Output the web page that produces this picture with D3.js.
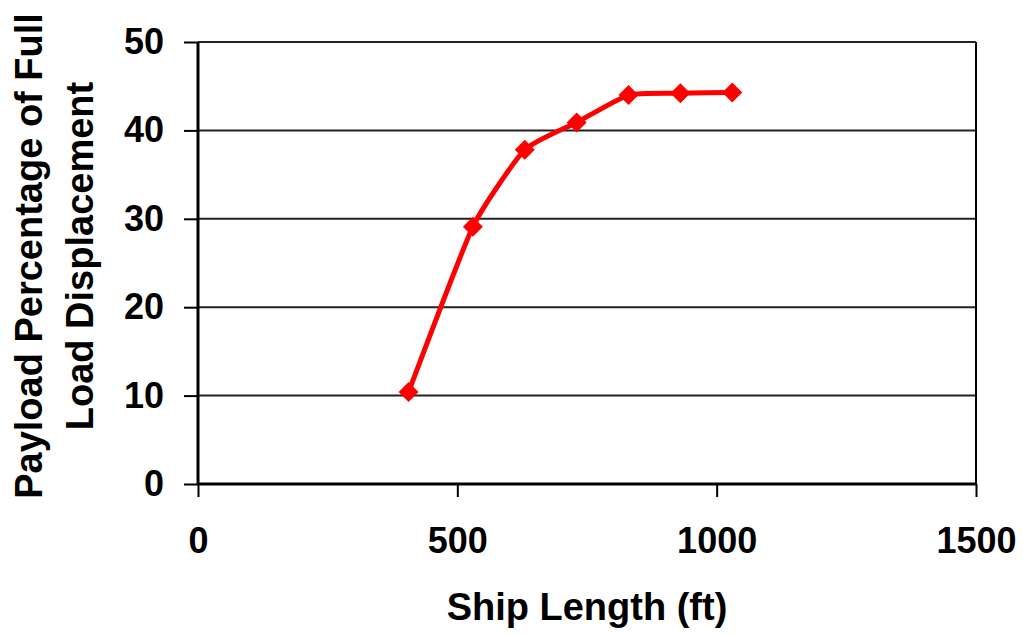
<!DOCTYPE html>
<html>
<head>
<meta charset="utf-8">
<script src="https://cdn.jsdelivr.net/npm/d3@7"></script>
<style>
  html, body { margin: 0; padding: 0; background: #fff; }
  text { font-family: Arial, "Liberation Sans", sans-serif; font-weight: bold; fill: #000; }
</style>
</head>
<body>
<svg id="chart" width="1023" height="635"></svg>
<script>
// ship length (ft) vs payload % of full load displacement
const shipLength = [406, 530, 630, 730, 830, 930, 1030];
const payloadPct = [10.4, 29.1, 37.8, 40.9, 44.0, 44.2, 44.3];
const xTicks = [0, 500, 1000, 1500];
const yTicks = [0, 10, 20, 30, 40, 50];

const margin = {top: 42, right: 47, bottom: 151, left: 198};
const width = 1023 - margin.left - margin.right;
const height = 635 - margin.top - margin.bottom;

const svgEl = d3.select("#chart");
const svg = svgEl.append("g")
    .attr("transform", `translate(${margin.left},${margin.top})`);

const xScale = d3.scaleLinear().domain([0, 1500]).range([0, width]);
const yScale = d3.scaleLinear().domain([0, 50]).range([height, 0]);

// horizontal grid lines
svg.append("g")
    .selectAll("line")
    .data(yTicks.filter(d => d > 0))
    .enter()
    .append("line")
    .attr("x1", 0)
    .attr("x2", width)
    .attr("y1", d => yScale(d))
    .attr("y2", d => yScale(d))
    .attr("stroke", "#222")
    .attr("stroke-width", 2);

// right border of plot area
svg.append("line")
    .attr("x1", width).attr("x2", width)
    .attr("y1", 0).attr("y2", height)
    .attr("stroke", "#000")
    .attr("stroke-width", 2);

const xAxis = d3.axisBottom(xScale)
    .tickValues(xTicks)
    .tickSize(13)
    .tickPadding(30)
    .tickFormat(d => d);

const xAxisGroup = svg.append("g")
    .attr("transform", `translate(0,${height})`)
    .call(xAxis);
xAxisGroup.select(".domain").attr("stroke-width", 3).attr("d", `M0,0H${width}`);
xAxisGroup.selectAll("line").attr("stroke-width", 2);
xAxisGroup.selectAll("text")
    .attr("font-size", "36px")
    .attr("font-family", "Arial, 'Liberation Sans', sans-serif")
    .attr("font-weight", "bold");

const yAxis = d3.axisLeft(yScale)
    .tickValues(yTicks)
    .tickSize(14)
    .tickPadding(20)
    .tickFormat(d => d);

const yAxisGroup = svg.append("g").call(yAxis);
yAxisGroup.select(".domain").attr("stroke-width", 3).attr("d", `M0,0V${height}`);
yAxisGroup.selectAll("line").attr("stroke-width", 2);
yAxisGroup.selectAll("text")
    .attr("font-size", "36px")
    .attr("font-family", "Arial, 'Liberation Sans', sans-serif")
    .attr("font-weight", "bold");

// data line, lightly smoothed like the spreadsheet original
const data = shipLength.map((x, i) => ({x: x, y: payloadPct[i]}));

const line = d3.line()
    .x(d => xScale(d.x))
    .y(d => yScale(d.y))
    .curve(d3.curveCardinal.tension(0.5));

svg.append("path")
    .datum(data)
    .attr("fill", "none")
    .attr("stroke", "#ff0000")
    .attr("stroke-width", 5)
    .attr("stroke-linejoin", "round")
    .attr("d", line);

const diamond = d3.symbol().type(d3.symbolSquare).size(200);
svg.selectAll(".marker")
    .data(data)
    .enter()
    .append("path")
    .attr("class", "marker")
    .attr("d", diamond)
    .attr("fill", "#ff0000")
    .attr("transform", d => `translate(${xScale(d.x)},${yScale(d.y)}) rotate(45)`);

// axis titles
svgEl.append("text")
    .attr("x", margin.left + width / 2)
    .attr("y", 620)
    .attr("text-anchor", "middle")
    .attr("font-size", "38px")
    .text("Ship Length (ft)");

const yTitle = svgEl.append("text")
    .attr("transform", `translate(0,${margin.top + 214}) rotate(-90)`)
    .attr("text-anchor", "middle")
    .attr("font-size", "38px");
yTitle.append("tspan").attr("x", 0).attr("y", 42).text("Payload Percentage of Full");
yTitle.append("tspan").attr("x", 0).attr("y", 93).text("Load Displacement");
</script>
</body>
</html>
